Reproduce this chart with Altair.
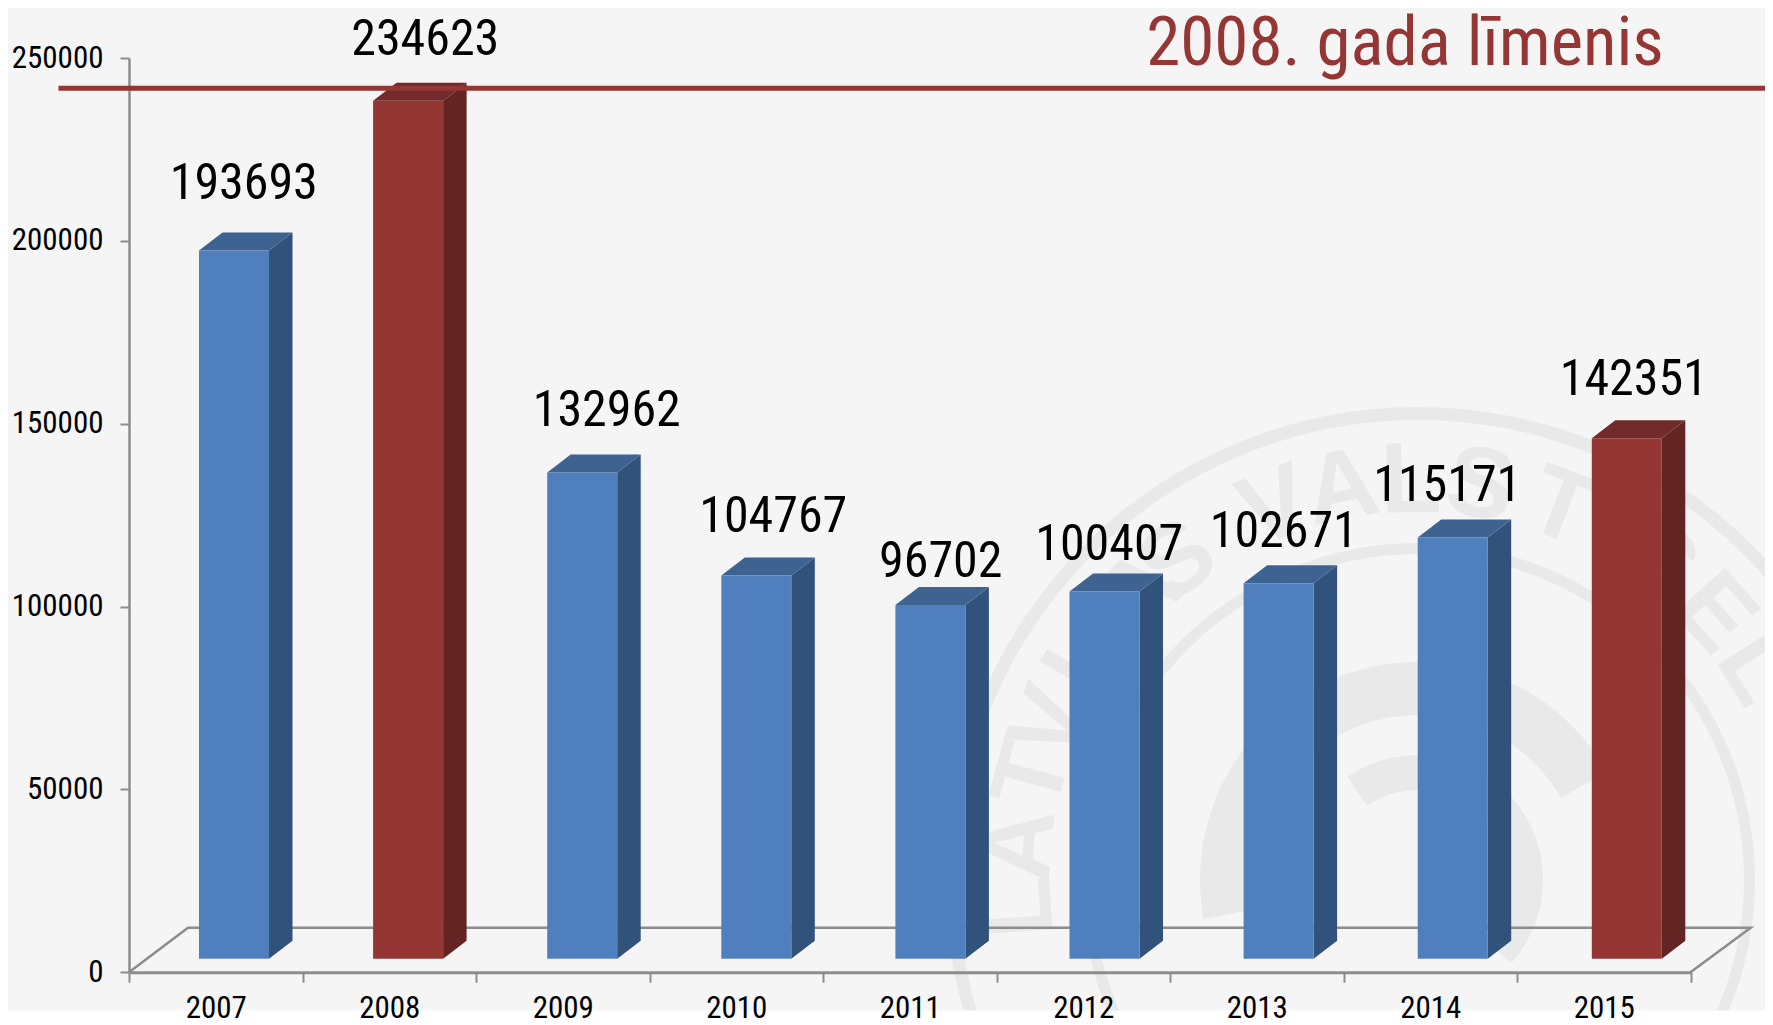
import math
import altair as alt
import pandas as pd

YEARS = ["2007", "2008", "2009", "2010", "2011", "2012", "2013", "2014", "2015"]
VALUES = [193693, 234623, 132962, 104767, 96702, 100407, 102671, 115171, 142351]
HIGHLIGHT = ["2008", "2015"]
LEVEL_VALUE = 241700
LEVEL_TEXT = "2008. gada līmenis"
Y_TICKS = [0, 50000, 100000, 150000, 200000, 250000]
SEAL_TEXT = list("LATVIJASVALSTSSEL")
SEAL_ANGLES = [-94, -85, -75, -67, -59, -52, -44, -37, -21, -11, -1, 9, 21, 33, 37, 48, 58]

# layout
FONT = "Roboto Condensed"
X0, Y0, STEP, PX_PER_K = 129.0, 972.3, 173.5, 3.657
N = len(YEARS)
W, H = STEP * N, PX_PER_K * 250
PAGE_W, PAGE_H = 1765, 1017
BLUE = ("#4f80bd", "#3e6391", "#31527a")
RED = ("#933634", "#722b2a", "#632423")
GRID = "#8c8c8c"
SEAL = "#e9e9e9"


def xv(px):
    return (px - X0) / STEP


def yv(py):
    return (Y0 - py) / PX_PER_K * 1000


# 3-D bar construction, in data units
FRONT_LIFT = 3700
DEPTH_Y = 18 / PX_PER_K * 1000
DEPTH_X = 23.5 / STEP
BAR_W = 70 / STEP
BAR_START = xv(199)
BAR_STEP = 174.1 / STEP
LABEL_SHIFT = [28, 36, 44, 37, 31, 26, 27, 17, 30]
LABEL_LIFT = [65, 59, 60, 57, 42, 45, 50, 50, 57]

front_rows, side_rows, top_rows, label_rows = [], [], [], []
for i, (yr, v) in enumerate(zip(YEARS, VALUES)):
    c = RED if yr in HIGHLIGHT else BLUE
    l = BAR_START + i * BAR_STEP
    r = l + BAR_W
    b = FRONT_LIFT
    t = v + FRONT_LIFT
    front_rows.append(dict(year=yr, x=l, x2=r, y=b, y2=t, fill=c[0]))
    side_rows += [
        dict(year=yr, x=r, low=b, high=t, fill=c[2]),
        dict(year=yr, x=r + DEPTH_X, low=b + DEPTH_Y, high=t + DEPTH_Y, fill=c[2]),
    ]
    top_rows += [
        dict(year=yr, x=l, low=t, high=t, fill=c[1]),
        dict(year=yr, x=l + DEPTH_X, low=t, high=t + DEPTH_Y, fill=c[1]),
        dict(year=yr, x=r, low=t, high=t + DEPTH_Y, fill=c[1]),
        dict(year=yr, x=r + DEPTH_X, low=t + DEPTH_Y, high=t + DEPTH_Y, fill=c[1]),
    ]
    label_rows.append(dict(
        x=i + 0.5 + LABEL_SHIFT[i] / STEP,
        y=v + LABEL_LIFT[i] / PX_PER_K * 1000,
        text=str(v),
    ))

x_labels = "[" + ",".join(f"'{y}'" for y in YEARS) + ",''][datum.value]"
X_AXIS = alt.Axis(
    values=list(range(N + 1)), labelExpr=x_labels, labelOffset=STEP / 2, labelFont=FONT, labelFontSize=31,
    labelColor="black", labelPadding=35, labelBaseline="alphabetic", labelOverlap=False, labelFlush=False,
    labelBound=False, domainColor=GRID, domainWidth=3, tickColor=GRID, tickWidth=2, tickSize=10, grid=False,
    zindex=1, title=None,
)
Y_AXIS = alt.Axis(
    values=Y_TICKS, format="d", labelFont=FONT, labelFontSize=31, labelColor="black", labelPadding=17,
    labelOverlap=False, labelFlush=False, labelBound=False, domainColor=GRID, domainWidth=2.5,
    tickColor=GRID, tickWidth=2, tickSize=9, grid=False, title=None,
)
X = lambda f="x": alt.X(f"{f}:Q", scale=alt.Scale(domain=[0, N], nice=False, zero=False), axis=X_AXIS)
Y = lambda f="y": alt.Y(f"{f}:Q", scale=alt.Scale(domain=[0, 250000], nice=False), axis=Y_AXIS, stack=None)
FILL = alt.Color("fill:N", scale=None, legend=None)

# seal watermark
SEAL_CX, SEAL_CY = 1418, 880
arcs = pd.DataFrame([
    dict(r0=460, r1=473, t0=0, t1=2 * math.pi),
    dict(r0=326, r1=337, t0=0, t1=2 * math.pi),
    dict(r0=165, r1=218, t0=-1.75, t1=1.05),
    dict(r0=90, r1=125, t0=-0.6, t1=2.3),
])
arcs["x"] = xv(SEAL_CX)
arcs["y"] = yv(SEAL_CY)
seal_arcs = alt.Chart(arcs).mark_arc(color=SEAL).encode(
    x=X(), y=Y(),
    theta=alt.Theta("t0:Q", scale=None),
    theta2=alt.Theta2("t1:Q"),
    radius=alt.Radius("r1:Q", scale=None),
    radius2=alt.Radius2("r0:Q"),
)
seal_letters = pd.DataFrame({"text": SEAL_TEXT, "a": SEAL_ANGLES})
seal_letters["x"] = [xv(SEAL_CX + 398 * math.sin(math.radians(a))) for a in SEAL_ANGLES]
seal_letters["y"] = [yv(SEAL_CY - 398 * math.cos(math.radians(a))) for a in SEAL_ANGLES]
seal_letters["angle"] = [a % 360 for a in SEAL_ANGLES]
seal_text = alt.Chart(seal_letters).mark_text(
    font="Liberation Sans", fontWeight="bold", fontSize=100, color=SEAL, baseline="middle", align="center"
).encode(x=X(), y=Y(), text="text:N", angle=alt.Angle("angle:Q", scale=None))

# floor
floor = alt.Chart(pd.DataFrame({
    "x": [0, xv(188), xv(1750.7), N],
    "y": [0, yv(927.7), yv(927.7), 0],
    "o": [0, 1, 2, 3],
})).mark_line(color=GRID, strokeWidth=2.5).encode(x=X(), y=Y(), order="o:Q")

front = alt.Chart(pd.DataFrame(front_rows)).mark_rect().encode(
    x=X(), x2="x2:Q", y=Y(), y2="y2:Q", color=FILL
)
side = alt.Chart(pd.DataFrame(side_rows)).mark_area().encode(
    x=X(), y=Y("low"), y2="high:Q", detail="year:N", color=FILL
)
top = alt.Chart(pd.DataFrame(top_rows)).mark_area().encode(
    x=X(), y=Y("low"), y2="high:Q", detail="year:N", color=FILL
)
labels = alt.Chart(pd.DataFrame(label_rows)).mark_text(
    font=FONT, fontSize=50, color="black", baseline="alphabetic", align="center"
).encode(x=X(), y=Y(), text="text:N")

level = alt.Chart(pd.DataFrame({"x": [xv(58.5)], "x2": [xv(1773)], "y": [LEVEL_VALUE]})).mark_rule(
    color=RED[0], strokeWidth=5
).encode(x=X(), x2="x2:Q", y=Y())
level_label = alt.Chart(pd.DataFrame({"x": [xv(1405)], "y": [yv(65)], "text": [LEVEL_TEXT]})).mark_text(
    font=FONT, fontSize=69, color=RED[0], baseline="alphabetic", align="center"
).encode(x=X(), y=Y(), text="text:N")

# page below the slide stays white
band = alt.Chart(pd.DataFrame({
    "x": [xv(0)], "x2": [xv(1773)], "y": [yv(1010.5)], "y2": [yv(1030)],
})).mark_rect(color="white").encode(x=X(), x2="x2:Q", y=Y(), y2="y2:Q")

chart = alt.layer(
    seal_arcs, seal_text, floor, side, top, front, labels, level, level_label, band
).properties(
    width=W, height=H, background="#f5f5f5",
    autosize=alt.AutoSizeParams(type="none"),
    padding={"left": X0 - 8, "top": 50, "right": PAGE_W - X0 - W, "bottom": PAGE_H - 50 - H},
).configure_view(stroke=None)

chart.save("out.html", embed_options={"renderer": "svg", "actions": False})
